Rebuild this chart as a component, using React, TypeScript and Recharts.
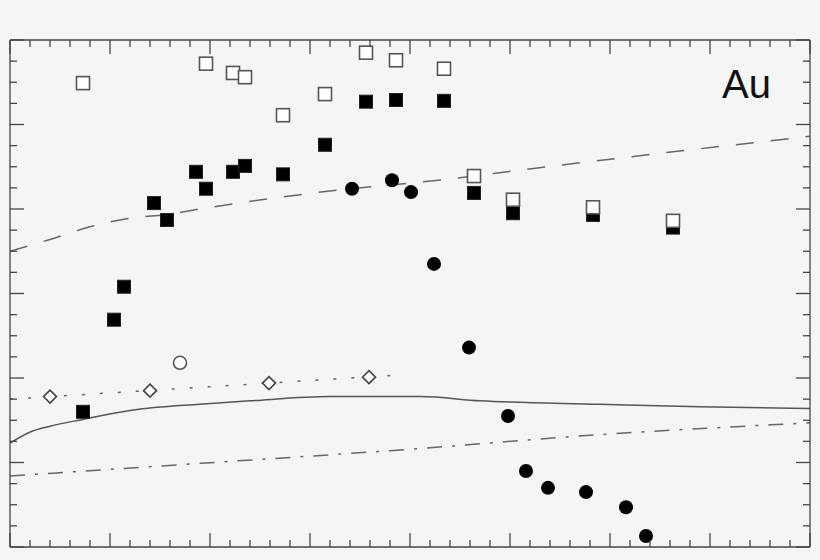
import React from 'react';
import { ComposedChart, Line, Scatter, XAxis, YAxis } from 'recharts';

// axis ticks (minor every 0.2 / 0.25, major on integers)
const xTicks = [
  0, 0.2, 0.4, 0.6, 0.8, 1, 1.2, 1.4, 1.6, 1.8, 2, 2.2, 2.4, 2.6, 2.8, 3, 3.2, 3.4, 3.6, 3.8, 4,
  4.2, 4.4, 4.6, 4.8, 5, 5.2, 5.4, 5.6, 5.8, 6, 6.2, 6.4, 6.6, 6.8, 7, 7.2, 7.4, 7.6, 7.8, 8,
];
const yTicks = [
  0, 0.25, 0.5, 0.75, 1, 1.25, 1.5, 1.75, 2, 2.25, 2.5, 2.75, 3, 3.25, 3.5, 3.75, 4, 4.25, 4.5,
  4.75, 5, 5.25, 5.5, 5.75, 6,
];

const openSquares = [
  { x: 0.73, y: 5.49 }, { x: 1.96, y: 5.72 }, { x: 2.23, y: 5.61 }, { x: 2.35, y: 5.56 },
  { x: 2.73, y: 5.11 }, { x: 3.15, y: 5.36 }, { x: 3.56, y: 5.85 }, { x: 3.86, y: 5.76 },
  { x: 4.34, y: 5.66 }, { x: 4.64, y: 4.39 }, { x: 5.03, y: 4.11 }, { x: 5.83, y: 4.02 },
  { x: 6.63, y: 3.86 },
];

const filledSquares = [
  { x: 0.73, y: 1.6 }, { x: 1.04, y: 2.69 }, { x: 1.14, y: 3.08 }, { x: 1.44, y: 4.07 },
  { x: 1.57, y: 3.87 }, { x: 1.86, y: 4.44 }, { x: 1.96, y: 4.24 }, { x: 2.23, y: 4.44 },
  { x: 2.35, y: 4.51 }, { x: 2.73, y: 4.41 }, { x: 3.15, y: 4.76 }, { x: 3.56, y: 5.27 },
  { x: 3.86, y: 5.29 }, { x: 4.34, y: 5.28 }, { x: 4.64, y: 4.19 }, { x: 5.03, y: 3.95 },
  { x: 5.83, y: 3.93 }, { x: 6.63, y: 3.78 },
];

const filledCircles = [
  { x: 3.42, y: 4.24 }, { x: 3.82, y: 4.34 }, { x: 4.01, y: 4.2 }, { x: 4.24, y: 3.35 },
  { x: 4.59, y: 2.36 }, { x: 4.98, y: 1.55 }, { x: 5.16, y: 0.9 }, { x: 5.38, y: 0.7 },
  { x: 5.76, y: 0.65 }, { x: 6.16, y: 0.47 }, { x: 6.36, y: 0.13 },
];

const openCircles = [{ x: 1.7, y: 2.18 }];

const openDiamonds = [
  { x: 0.4, y: 1.78 }, { x: 1.4, y: 1.85 }, { x: 2.59, y: 1.94 }, { x: 3.59, y: 2.01 },
];

const dottedLine = [{ x: 0, y: 1.75 }, { x: 3.95, y: 2.04 }];

const dashedLine = [
  { x: 0, y: 3.5 }, { x: 0.4, y: 3.64 }, { x: 0.8, y: 3.79 }, { x: 1.2, y: 3.89 },
  { x: 1.6, y: 3.94 }, { x: 1.9, y: 4.0 }, { x: 2.9, y: 4.17 }, { x: 4.5, y: 4.37 },
  { x: 5.1, y: 4.46 }, { x: 8, y: 4.86 },
];

const solidLine = [
  { x: 0, y: 1.23 }, { x: 0.22, y: 1.37 }, { x: 0.4, y: 1.43 }, { x: 0.73, y: 1.51 },
  { x: 1.23, y: 1.62 }, { x: 1.9, y: 1.69 }, { x: 2.4, y: 1.73 }, { x: 3.2, y: 1.78 },
  { x: 4.1, y: 1.78 }, { x: 4.7, y: 1.73 }, { x: 5.9, y: 1.69 }, { x: 6.9, y: 1.66 },
  { x: 8, y: 1.64 },
];

const dashDotLine = [
  { x: 0, y: 0.84 }, { x: 1.9, y: 0.99 }, { x: 3.8, y: 1.14 }, { x: 5.9, y: 1.33 },
  { x: 8, y: 1.47 },
];

const frameColor = '#444';
const lineColor = '#666';

const inwardTick = (side: 'top' | 'bottom' | 'left' | 'right') => (props: any) => {
  const { x, y, payload } = props;
  const len = Number.isInteger(payload.value) ? 14 : 7;
  let x2 = x;
  let y2 = y;
  if (side === 'bottom') y2 = y - len;
  if (side === 'top') y2 = y + len;
  if (side === 'left') x2 = x + len;
  if (side === 'right') x2 = x - len;
  return <line x1={x} y1={y} x2={x2} y2={y2} stroke={frameColor} strokeWidth={1.3} />;
};

const openSquare = (props: any) => (
  <rect x={props.cx - 6.5} y={props.cy - 6.5} width={13} height={13} fill="#fff" stroke="#555" strokeWidth={1.6} />
);
const filledSquare = (props: any) => (
  <rect x={props.cx - 6.5} y={props.cy - 6.5} width={13} height={13} fill="#000" stroke="#222" strokeWidth={1} />
);
const filledCircle = (props: any) => <circle cx={props.cx} cy={props.cy} r={7} fill="#000" />;
const openCircle = (props: any) => (
  <circle cx={props.cx} cy={props.cy} r={6.5} fill="#fff" stroke="#555" strokeWidth={1.6} />
);
const openDiamond = (props: any) => {
  const { cx, cy } = props;
  const d = 6.5;
  return (
    <polygon
      points={`${cx},${cy - d} ${cx + d},${cy} ${cx},${cy + d} ${cx - d},${cy}`}
      fill="#fff"
      stroke="#444"
      strokeWidth={1.6}
    />
  );
};

const axisProps = {
  type: 'number' as const,
  mirror: true,
  tickLine: false,
  tickSize: 0,
  tickMargin: 0,
  interval: 0 as const,
  allowDataOverflow: true,
  axisLine: { stroke: frameColor, strokeWidth: 1.3 },
};

export default function App() {
  return (
    <div style={{ position: 'absolute', left: 0, top: 0, width: 820, height: 560, background: '#f5f5f5' }}>
      <ComposedChart width={820} height={560} margin={{ top: 40, right: 10, bottom: 13, left: 10 }}>
        <XAxis {...axisProps} xAxisId="b" orientation="bottom" dataKey="x" domain={[0, 8]} ticks={xTicks} tick={inwardTick('bottom')} />
        <XAxis {...axisProps} xAxisId="t" orientation="top" dataKey="x" domain={[0, 8]} ticks={xTicks} tick={inwardTick('top')} />
        <YAxis {...axisProps} yAxisId="l" orientation="left" dataKey="y" domain={[0, 6]} ticks={yTicks} tick={inwardTick('left')} />
        <YAxis {...axisProps} yAxisId="r" orientation="right" dataKey="y" domain={[0, 6]} ticks={yTicks} tick={inwardTick('right')} />

        <Line xAxisId="b" yAxisId="l" data={dashedLine} dataKey="y" type="monotone" stroke={lineColor} strokeWidth={1.5} strokeDasharray="18 17" dot={false} isAnimationActive={false} />
        <Line xAxisId="b" yAxisId="l" data={dottedLine} dataKey="y" type="linear" stroke={lineColor} strokeWidth={1.5} strokeDasharray="3 15" dot={false} isAnimationActive={false} />
        <Line xAxisId="b" yAxisId="l" data={solidLine} dataKey="y" type="monotone" stroke="#555" strokeWidth={1.5} dot={false} isAnimationActive={false} />
        <Line xAxisId="b" yAxisId="l" data={dashDotLine} dataKey="y" type="monotone" stroke={lineColor} strokeWidth={1.5} strokeDasharray="15 10 3 10" dot={false} isAnimationActive={false} />

        <Scatter xAxisId="b" yAxisId="l" data={filledSquares} shape={filledSquare} isAnimationActive={false} />
        <Scatter xAxisId="b" yAxisId="l" data={openSquares} shape={openSquare} isAnimationActive={false} />
        <Scatter xAxisId="b" yAxisId="l" data={filledCircles} shape={filledCircle} isAnimationActive={false} />
        <Scatter xAxisId="b" yAxisId="l" data={openCircles} shape={openCircle} isAnimationActive={false} />
        <Scatter xAxisId="b" yAxisId="l" data={openDiamonds} shape={openDiamond} isAnimationActive={false} />
      </ComposedChart>
      <div
        style={{
          position: 'absolute',
          left: 722,
          top: 64,
          fontFamily: '"Liberation Sans", Arial, sans-serif',
          fontSize: 40,
          lineHeight: '40px',
          color: '#111',
        }}
      >
        Au
      </div>
    </div>
  );
}
